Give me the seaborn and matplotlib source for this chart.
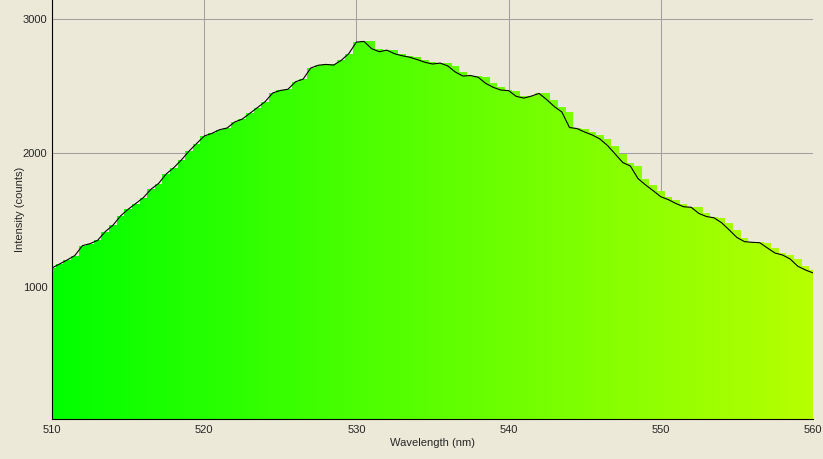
import seaborn as sns
import matplotlib.pyplot as plt
import pandas as pd
import numpy as np

# ---- Spectrum data (0.5 nm steps, 510-560 nm) ----
wl_start = 510.0
wl_step = 0.5
intensity = [
    1140, 1170, 1200, 1233, 1307, 1322, 1347, 1412, 1459, 1529,
    1579, 1622, 1666, 1729, 1772, 1843, 1890, 1948, 2014, 2071,
    2127, 2147, 2174, 2187, 2232, 2254, 2297, 2340, 2384, 2449,
    2468, 2477, 2533, 2553, 2636, 2657, 2663, 2658, 2693, 2744,
    2830, 2835, 2781, 2758, 2770, 2743, 2728, 2717, 2699, 2679,
    2666, 2673, 2652, 2606, 2576, 2580, 2567, 2521, 2491, 2471,
    2467, 2424, 2411, 2426, 2446, 2400, 2348, 2307, 2191, 2183,
    2157, 2135, 2105, 2056, 1993, 1929, 1903, 1809, 1761, 1718,
    1673, 1651, 1622, 1598, 1594, 1548, 1525, 1515, 1478, 1424,
    1368, 1337, 1332, 1329, 1290, 1252, 1237, 1207, 1153, 1125,
    1103,
]
wavelength = wl_start + wl_step * np.arange(len(intensity))

df = pd.DataFrame({"Wavelength (nm)": wavelength, "Intensity (counts)": intensity})

bg = "#ECE9D8"
sns.set_style("white", {"axes.facecolor": bg, "figure.facecolor": bg})
plt.rcParams["font.family"] = ["Liberation Sans", "DejaVu Sans"]


def spectrum_color(wl):
    # green -> yellow part of the visible spectrum
    r = np.clip((wl - 510.0) / 70.0, 0, 1)
    return (r, 1.0, 0.0)


fig = plt.figure(figsize=(8.23, 4.59), dpi=100)
ax = fig.add_axes([52 / 823, 40 / 459, 761 / 823, 419 / 459])

# ---- Coloured step fill: each bin shows the larger of two neighbouring samples ----
bar_h = np.maximum(intensity, [intensity[0]] + intensity[:-1])
colors = [spectrum_color(w) for w in wavelength]
ax.bar(wavelength, bar_h, width=wl_step, align="center", color=colors,
       linewidth=0, antialiased=False, zorder=2)

# ---- Measured line ----
sns.lineplot(data=df, x="Wavelength (nm)", y="Intensity (counts)",
             color="black", linewidth=0.8, ax=ax, zorder=3)

ax.set_xlim(510, 560)
ax.set_ylim(10, 3145)
ax.set_xticks([510, 520, 530, 540, 550, 560])
ax.set_xticks([515, 525, 535, 545, 555], minor=True)
ax.set_yticks([1000, 2000, 3000])
ax.set_yticks([1500, 2500], minor=True)

ax.grid(True, which="major", color="#A0A0A0", linewidth=0.75)
ax.set_axisbelow(True)
ax.xaxis.get_gridlines()[-1].set_visible(False)

for side in ["top", "right"]:
    ax.spines[side].set_visible(False)
for side in ["left", "bottom"]:
    ax.spines[side].set_color("black")
    ax.spines[side].set_linewidth(0.8)

ax.tick_params(axis="x", which="both", direction="out", length=2.5, width=0.8,
               color="black", labelsize=8, pad=2)
ax.tick_params(axis="y", which="major", direction="out", length=2.8, width=0.8,
               color="black", labelsize=8, pad=0.5)
ax.tick_params(axis="y", which="minor", direction="inout", length=3, width=0.8,
               color="black")

ax.set_xlabel("Wavelength (nm)", fontsize=8, labelpad=2)
ax.set_ylabel("Intensity (counts)", fontsize=8)
ax.yaxis.set_label_coords(-0.035, 0.5)

fig.savefig("out.png", dpi=100, facecolor=bg)
plt.close(fig)
